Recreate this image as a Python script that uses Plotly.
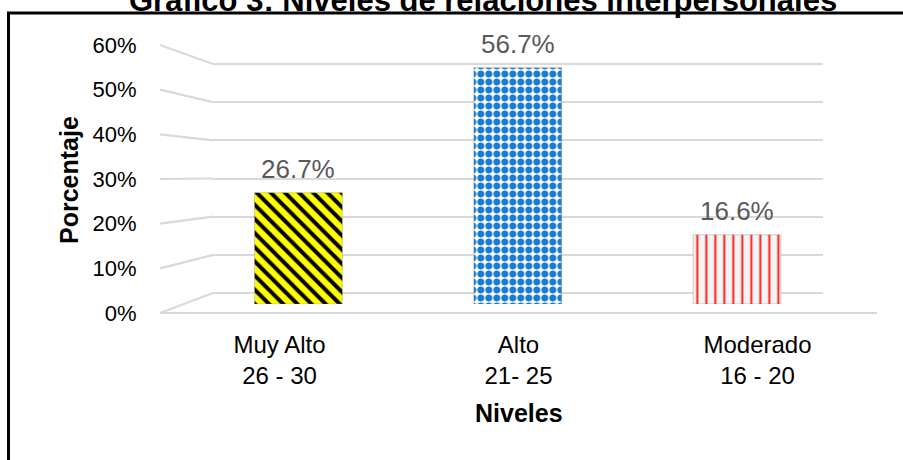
import plotly.graph_objects as go

# ---------------- data ----------------
categories = ["Muy Alto<br>26 - 30", "Alto<br>21- 25", "Moderado<br>16 - 20"]
values = [26.7, 56.7, 16.6]
tick_values = [0, 10, 20, 30, 40, 50, 60]
tick_labels = ["0%", "10%", "20%", "30%", "40%", "50%", "60%"]
title_text = "Gráfico 3: Niveles de relaciones interpersonales"
x_title = "Niveles"
y_title = "Porcentaje"

# ---------------- styles ----------------
pattern_shapes = ["\\", ".", "|"]
pattern_fg = ["#000000", "#1C7BD0", "#FF1A1A"]
pattern_bg = ["#FFFF00", "#FFFFFF", "#F4F4F4"]
pattern_size = [10, 8, 9]
pattern_solidity = [0.4, 0.6, 0.22]

W, H = 903, 460
FONT = "Liberation Sans, Arial, sans-serif"
GRID = "#D9D9D9"


def fx(px):
    return px / W


def fy(py):
    return 1 - py / H


# pixel geometry of the pseudo-3D walls (layout, not data)
FRONT_X0, FRONT_X1, FRONT_Y0, FRONT_YTOP = 160, 877, 313, 45
BACK_X0, BACK_X1, BACK_Y0, BACK_YTOP = 213, 823, 293, 64
BAR_X0, BAR_X1, BAR_Y0, BAR_YTOP = 188.8, 846.7, 304, 54
VMAX = tick_values[-1]
NCAT = len(categories)


def front_y(v):
    return FRONT_Y0 - v * (FRONT_Y0 - FRONT_YTOP) / VMAX


def back_y(v):
    return BACK_Y0 - v * (BACK_Y0 - BACK_YTOP) / VMAX


fig = go.Figure()

# --- subplot 1: front axis (tick labels + categories) ---
fig.add_trace(go.Scatter(x=categories, y=[None] * NCAT, xaxis="x", yaxis="y",
                         mode="markers", showlegend=False, hoverinfo="skip"))

# --- subplot 2: back wall gridlines ---
fig.add_trace(go.Scatter(x=[0, 1], y=[None, None], xaxis="x2", yaxis="y2",
                         mode="markers", showlegend=False, hoverinfo="skip"))

# --- subplot 3: pixel overlay for side-wall diagonals and floor edge ---
dx, dy = [], []
for v in tick_values:
    dx += [FRONT_X0, BACK_X0, None]
    dy += [front_y(v), back_y(v), None]
dx += [FRONT_X0, FRONT_X1, None]
dy += [front_y(0), front_y(0), None]
fig.add_trace(go.Scatter(x=dx, y=dy, xaxis="x3", yaxis="y3", mode="lines",
                         line=dict(color=GRID, width=2.2), showlegend=False,
                         hoverinfo="skip"))

# --- subplot 4: bars (one trace per bar so each gets its own pattern) ---
for i, (c, v) in enumerate(zip(categories, values)):
    fig.add_trace(go.Bar(
        x=[c], y=[v], xaxis="x4", yaxis="y4", width=0.40,
        marker=dict(
            color=pattern_bg[i],
            line=dict(color="rgba(120,120,120,0.35)", width=1),
            pattern=dict(shape=pattern_shapes[i], fgcolor=pattern_fg[i],
                         bgcolor=pattern_bg[i], size=pattern_size[i],
                         solidity=pattern_solidity[i], fgopacity=1),
        ),
        showlegend=False, hoverinfo="skip",
    ))

annotations = []
for c, v in zip(categories, values):
    annotations.append(dict(x=c, y=v, xref="x4", yref="y4", text=f"{v}%",
                            showarrow=False, yanchor="middle", yshift=24,
                            font=dict(family=FONT, size=26, color="#595959")))

annotations.append(dict(x=fx(483), y=fy(0), xref="paper", yref="paper",
                        text=f"<b>{title_text}</b>", showarrow=False,
                        xanchor="center", yanchor="middle",
                        font=dict(family=FONT, size=31, color="#000000")))
annotations.append(dict(x=fx(519), y=fy(413), xref="paper", yref="paper",
                        text=f"<b>{x_title}</b>", showarrow=False,
                        xanchor="center", yanchor="middle",
                        font=dict(family=FONT, size=25, color="#000000")))
annotations.append(dict(x=fx(69), y=fy(180), xref="paper", yref="paper",
                        text=f"<b>{y_title}</b>", showarrow=False, textangle=-90,
                        xanchor="center", yanchor="middle",
                        font=dict(family=FONT, size=25, color="#000000")))

pad_b = 0.5
bpx = (BACK_Y0 - BACK_YTOP) / VMAX

fig.update_layout(
    template="none",
    width=W, height=H,
    margin=dict(l=0, r=0, t=0, b=0, pad=0, autoexpand=False),
    paper_bgcolor="white", plot_bgcolor="rgba(0,0,0,0)",
    barmode="overlay",
    hovermode=False,
    xaxis=dict(domain=[fx(FRONT_X0), fx(FRONT_X1)], anchor="y", type="category",
               categoryorder="array", categoryarray=categories,
               range=[-0.5, NCAT - 0.5], automargin=False,
               showgrid=False, zeroline=False, showline=False,
               ticks="outside", ticklen=10, tickcolor="rgba(0,0,0,0)",
               tickfont=dict(family=FONT, size=24, color="#000000")),
    yaxis=dict(domain=[fy(FRONT_Y0), fy(FRONT_YTOP)], anchor="x", range=[0, VMAX],
               tickvals=tick_values, ticktext=tick_labels, automargin=False,
               showgrid=False, zeroline=False, showline=False,
               ticks="outside", ticklen=18, tickcolor="rgba(0,0,0,0)",
               tickfont=dict(family=FONT, size=22, color="#000000")),
    xaxis2=dict(domain=[fx(BACK_X0), fx(BACK_X1)], anchor="y2", range=[0, 1],
                visible=False),
    yaxis2=dict(domain=[fy(BACK_Y0 + pad_b * bpx), fy(BACK_YTOP - pad_b * bpx)],
                anchor="x2", range=[-pad_b, VMAX + pad_b], tickvals=tick_values,
                showticklabels=False, showgrid=True, gridcolor=GRID, gridwidth=2.2,
                zeroline=False, showline=False, ticks="", automargin=False),
    xaxis3=dict(domain=[0, 1], anchor="y3", range=[0, W], visible=False),
    yaxis3=dict(domain=[0, 1], anchor="x3", range=[H, 0], visible=False),
    xaxis4=dict(domain=[fx(BAR_X0), fx(BAR_X1)], anchor="y4", type="category",
                categoryorder="array", categoryarray=categories,
                range=[-0.5, NCAT - 0.5], visible=False),
    yaxis4=dict(domain=[fy(BAR_Y0), fy(BAR_YTOP)], anchor="x4", range=[0, VMAX],
                visible=False),
    annotations=annotations,
    shapes=[dict(type="rect", xref="paper", yref="paper",
                 x0=fx(8.5), x1=fx(W + 20), y0=fy(H + 20), y1=fy(13),
                 line=dict(color="#000000", width=3), fillcolor="rgba(0,0,0,0)")],
)

fig.write_html("out.html", config={"displayModeBar": False},
               post_script="document.body.style.margin='0';")
